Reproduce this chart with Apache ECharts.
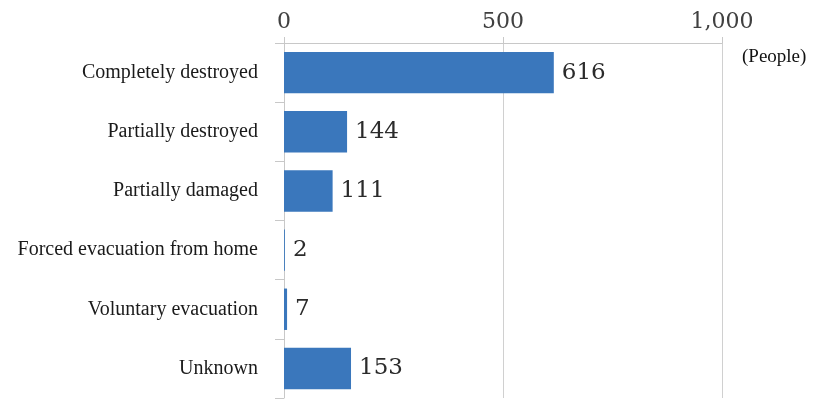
<!DOCTYPE html>
<html>
<head>
<meta charset="utf-8">
<script src="https://cdn.jsdelivr.net/npm/echarts@6/dist/echarts.min.js"></script>
<style>
html, body { margin: 0; padding: 0; background: #fff; }
#chart { width: 828px; height: 402px; }
</style>
</head>
<body>
<div id="chart"></div>
<script>
// categories from top to bottom
var categories = ['Completely destroyed', 'Partially destroyed', 'Partially damaged',
    'Forced evacuation from home', 'Voluntary evacuation', 'Unknown'];
var people = [616, 144, 111, 2, 7, 153];
var xTicks = [0, 500, 1000];

var chart = echarts.init(document.getElementById('chart'));
var serif = '"Liberation Serif", "DejaVu Serif", serif';
var wideSerif = '"DejaVu Serif", serif';

var option = {
    animation: false,
    backgroundColor: '#fff',
    grid: { left: 284, right: 106, top: 43, bottom: 4 },
    graphic: [{
        type: 'text',
        left: 742,
        top: 48,
        style: { text: '(People)', font: '19px ' + serif, fill: '#111' }
    }],
    xAxis: {
        type: 'value',
        position: 'top',
        min: xTicks[0],
        max: xTicks[xTicks.length - 1],
        interval: 500,
        axisLine: { show: true, lineStyle: { color: '#c8c8c8', width: 1 } },
        axisTick: { show: true, inside: false, length: 6, lineStyle: { color: '#c8c8c8' } },
        axisLabel: {
            margin: 10,
            color: '#404040',
            fontFamily: wideSerif,
            fontSize: 22,
            formatter: function (v) { return v.toLocaleString('en-US'); }
        },
        splitLine: { show: true, lineStyle: { color: '#d0d0d0', width: 1 } }
    },
    yAxis: {
        type: 'category',
        inverse: true,
        data: categories,
        axisLine: { show: true, lineStyle: { color: '#c8c8c8', width: 1 } },
        axisTick: { show: true, length: 9, lineStyle: { color: '#c8c8c8' } },
        axisLabel: {
            margin: 26,
            color: '#1a1a1a',
            fontFamily: serif,
            fontSize: 20,
            padding: [6, 0, 0, 0]
        }
    },
    series: [{
        type: 'bar',
        data: people,
        barWidth: '70%',
        itemStyle: { color: '#3a77bc' },
        label: {
            show: true,
            position: 'right',
            distance: 8,
            color: '#2b2b2b',
            fontFamily: wideSerif,
            fontSize: 23
        }
    }]
};
chart.setOption(option);
</script>
</body>
</html>
